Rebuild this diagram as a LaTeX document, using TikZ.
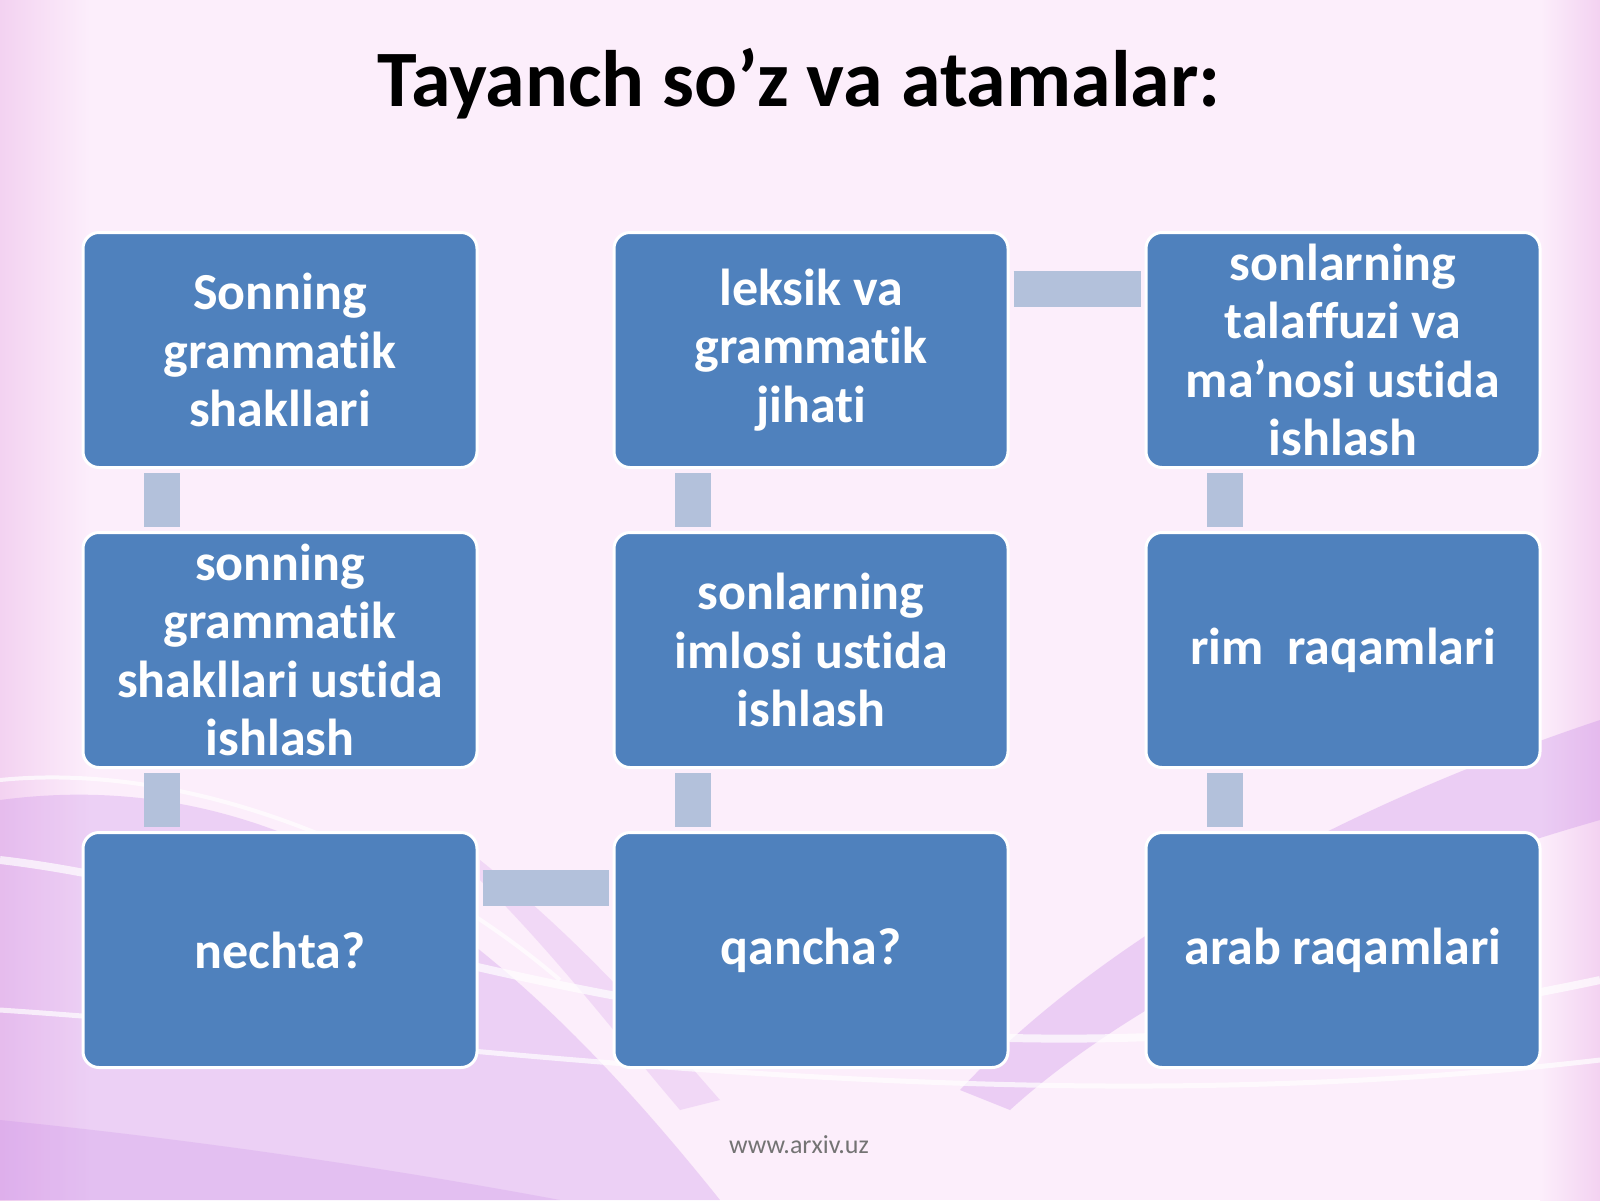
\documentclass[tikz,border=0pt]{standalone}
\usepackage{fontspec}
\setmainfont{Carlito}[Ligatures=NoCommon]
\usetikzlibrary{positioning}

\definecolor{boxblue}{HTML}{4F81BD}
\definecolor{linkblue}{HTML}{B3C1DB}
\definecolor{bgpink}{HTML}{F3D2F1}
\definecolor{bgpale}{HTML}{FCEEFB}
\definecolor{wavepurple}{HTML}{C583E6}

\begin{document}
\begin{tikzpicture}[x=1pt, y=-1pt]
    % Styles
    \tikzstyle{term} = [rectangle, rounded corners=16pt, draw=white, line width=3pt, fill=boxblue, text=white, minimum width=394pt, minimum height=235pt, inner sep=0pt, align=center, font=\bfseries\fontsize{52}{58.5}\selectfont]
    \tikzstyle{link} = [draw=linkblue, line width=36pt, shorten <=4pt, shorten >=4pt]
    \tikzstyle{swoosh} = [white, line width=8pt, opacity=0.7]

    \useasboundingbox (0,0) rectangle (1600,1200);

    % Background
    \begin{scope}
      \clip (0,0) rectangle (1600,1200);
      \fill[bgpale] (0,0) rectangle (1600,1200);
      \shade[left color=bgpink, right color=bgpale] (0,0) rectangle (90,1200);
      \shade[left color=bgpale, right color=bgpink] (1540,0) rectangle (1600,1200);
      \fill[wavepurple, opacity=0.28] (0,800) .. controls (300,760) and (520,950) .. (720,1200) -- (0,1200) -- cycle;
      \fill[wavepurple, opacity=0.22] (0,1120) .. controls (200,1140) and (400,1170) .. (560,1200) -- (0,1200) -- cycle;
      \fill[wavepurple, opacity=0.3] (960,1090) .. controls (1080,960) and (1300,820) .. (1600,720) -- (1600,820) .. controls (1320,900) and (1120,1010) .. (1010,1110) -- cycle;
      \fill[wavepurple, opacity=0.2] (480,880) .. controls (560,960) and (620,1040) .. (680,1110) -- (720,1100) .. controls (650,1020) and (580,940) .. (480,860) -- cycle;
      \draw[swoosh] (0,860) .. controls (350,900) and (800,1150) .. (1600,980);
      \draw[swoosh, line width=5pt] (0,1010) .. controls (450,1040) and (1000,1130) .. (1600,1060);
      \draw[swoosh, line width=4pt] (0,780) .. controls (200,760) and (420,860) .. (560,980);
    \end{scope}

    % Title
    \node[font=\bfseries\fontsize{80}{96}\selectfont] (title) at (799,84) {Tayanch so’z va atamalar:};

    % Nodes
    \node[term] (gram) at (280,350) {Sonning\\grammatik\\shakllari};
    \node[term] (gramwork) at (280,650) {sonning\\grammatik\\shakllari ustida\\ishlash};
    \node[term] (nechta) at (280,950) {nechta?};
    \node[term] (qancha) at (811,950) {qancha?};
    \node[term] (imlo) at (811,650) {sonlarning\\imlosi ustida\\ishlash};
    \node[term] (leksik) at (811,350) {leksik va\\grammatik\\jihati};
    \node[term] (talaffuz) at (1343,350) {sonlarning\\talaffuzi va\\ma’nosi ustida\\ishlash};
    \node[term] (rim) at (1343,650) {rim~ raqamlari};
    \node[term] (arab) at (1343,950) {arab raqamlari};

    % Links
    \draw[link] ([xshift=-118pt]gram.south) -- ([xshift=-118pt]gramwork.north);
    \draw[link] ([xshift=-118pt]gramwork.south) -- ([xshift=-118pt]nechta.north);
    \draw[link] ([yshift=62pt]nechta.east) -- ([yshift=62pt]qancha.west);
    \draw[link] ([xshift=-118pt]imlo.south) -- ([xshift=-118pt]qancha.north);
    \draw[link] ([xshift=-118pt]leksik.south) -- ([xshift=-118pt]imlo.north);
    \draw[link] ([yshift=61pt]leksik.east) -- ([yshift=61pt]talaffuz.west);
    \draw[link] ([xshift=-118pt]talaffuz.south) -- ([xshift=-118pt]rim.north);
    \draw[link] ([xshift=-118pt]rim.south) -- ([xshift=-118pt]arab.north);

    % Footer
    \node[text=black!55, font=\fontsize{26}{30}\selectfont] (site) at (799,1145) {www.arxiv.uz};
\end{tikzpicture}
\end{document}
